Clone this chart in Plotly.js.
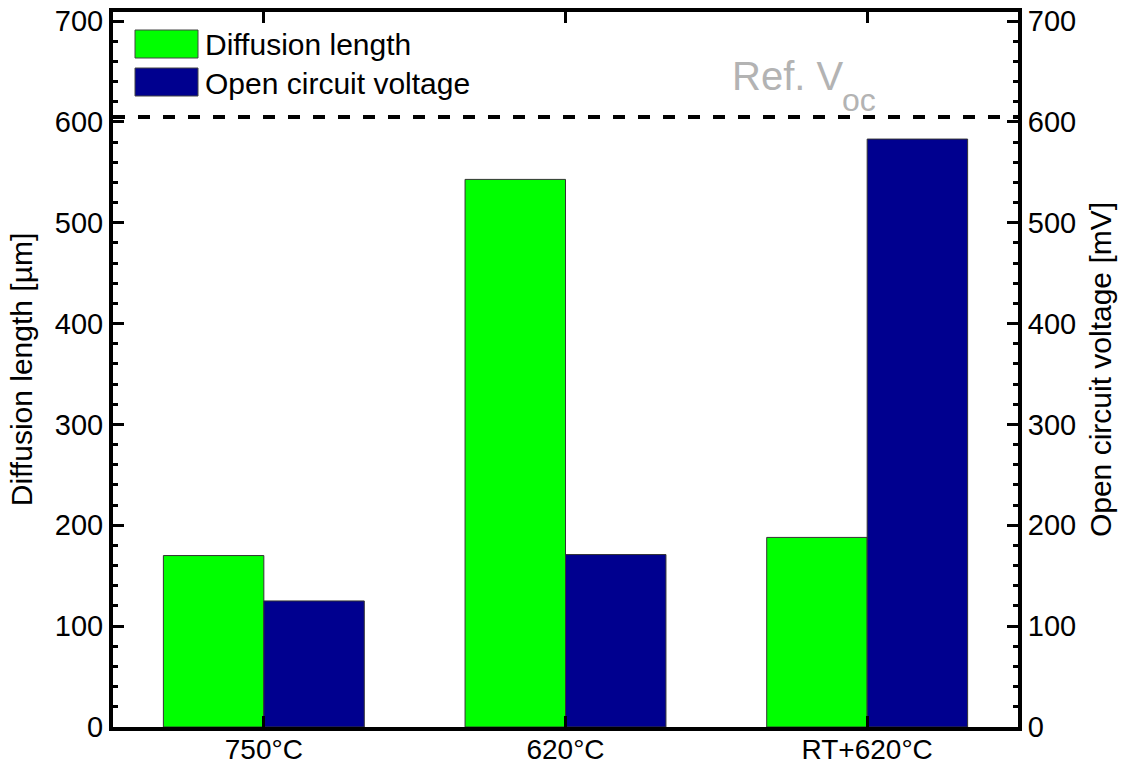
<!DOCTYPE html>
<html>
<head>
<meta charset="utf-8">
<script src="https://cdn.plot.ly/plotly-3.0.1.min.js"></script>
<style>html,body{margin:0;padding:0;background:#fff;}#chart{width:1121px;height:768px;}</style>
</head>
<body>
<div id="chart"></div>
<script>
const categories = ["750°C", "620°C", "RT+620°C"];
const diffusionLength = [170, 543, 188];   // µm
const openCircuitVoltage = [125, 171, 583]; // mV
const refVoc = 605; // mV
const seriesNames = ["Diffusion length", "Open circuit voltage"];
const seriesColors = ["#00ff00", "#00008f"];

const W = 1121, H = 768;
const M = {l: 113, r: 103, t: 12, b: 41};
const PW = W - M.l - M.r, PH = H - M.t - M.b;
const px = x => (x - M.l) / PW;
const py = y => (H - M.b - y) / PH;

const FONT = "Liberation Sans, Arial, Helvetica, sans-serif";

const traces = [
  {
    type: "bar", x: categories, y: diffusionLength, name: seriesNames[0],
    width: 0.333, offset: -0.333, yaxis: "y",
    marker: {color: seriesColors[0], line: {color: "#333", width: 1}},
    showlegend: false
  },
  {
    type: "bar", x: categories, y: openCircuitVoltage, name: seriesNames[1],
    width: 0.333, offset: 0, yaxis: "y2",
    marker: {color: seriesColors[1], line: {color: "#333", width: 1}},
    showlegend: false
  }
];

const yCommon = {
  range: [0, 709], dtick: 100, tick0: 0,
  ticks: "inside", ticklen: 11, tickwidth: 3, tickcolor: "#000",
  showline: true, linecolor: "#000", linewidth: 4,
  showgrid: false, zeroline: false,
  tickfont: {family: FONT, size: 29, color: "#000"},
  minor: {dtick: 20, ticks: "inside", ticklen: 5, tickwidth: 3, tickcolor: "#000", showgrid: false},
  fixedrange: true
};

const layout = {
  width: W, height: H,
  margin: M,
  paper_bgcolor: "#fff", plot_bgcolor: "#fff",
  font: {family: FONT, color: "#000"},
  showlegend: false,
  xaxis: {
    type: "category", range: [-0.5, 2.5],
    ticks: "inside", ticklen: 11, tickwidth: 3, tickcolor: "#000",
    showline: true, linecolor: "#000", linewidth: 4, mirror: "ticks",
    showgrid: false, zeroline: false,
    tickfont: {family: FONT, size: 28, color: "#000"},
    ticklabelstandoff: -6,
    fixedrange: true
  },
  yaxis: Object.assign({}, yCommon, {
    side: "left",
    title: {text: "Diffusion length [µm]", font: {family: FONT, size: 30, color: "#000"}, standoff: 14}
  }),
  yaxis2: Object.assign({}, yCommon, {
    side: "right", overlaying: "y",
    title: {text: "Open circuit voltage [mV]", font: {family: FONT, size: 30, color: "#000"}, standoff: 16}
  }),
  shapes: [
    {type: "line", xref: "paper", yref: "y", x0: 0, x1: 1, y0: refVoc, y1: refVoc,
     line: {color: "#000", width: 4, dash: "12px,13px"}},
    {type: "rect", xref: "paper", yref: "paper", x0: px(135), x1: px(198), y0: py(58), y1: py(30),
     fillcolor: seriesColors[0], line: {color: "#444", width: 1}},
    {type: "rect", xref: "paper", yref: "paper", x0: px(135), x1: px(198), y0: py(96), y1: py(68),
     fillcolor: seriesColors[1], line: {color: "#444", width: 1}}
  ],
  annotations: [
    {xref: "paper", yref: "paper", x: px(203), y: py(45), xanchor: "left", yanchor: "middle",
     text: seriesNames[0], showarrow: false, font: {family: FONT, size: 30, color: "#000"}},
    {xref: "paper", yref: "paper", x: px(203), y: py(83), xanchor: "left", yanchor: "middle",
     text: seriesNames[1], showarrow: false, font: {family: FONT, size: 30, color: "#000"}},
    {xref: "paper", yref: "paper", x: px(730), y: py(76), xanchor: "left", yanchor: "middle",
     text: "Ref. V", showarrow: false, font: {family: FONT, size: 40, color: "#b3b3b3"}},
    {xref: "paper", yref: "paper", x: px(840), y: py(100), xanchor: "left", yanchor: "middle",
     text: "oc", showarrow: false, font: {family: FONT, size: 32, color: "#b3b3b3"}}
  ]
};

Plotly.newPlot("chart", traces, layout, {displayModeBar: false, staticPlot: true});
</script>
</body>
</html>
